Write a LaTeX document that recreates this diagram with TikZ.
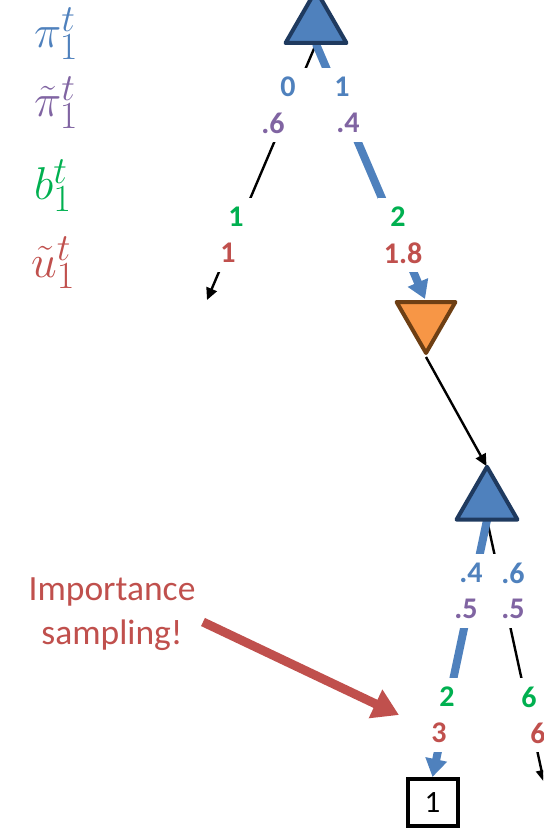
\documentclass[tikz,border=0pt]{standalone}
\usepackage{fontspec}
\usepackage{graphicx}
\newfontfamily\carl{Carlito}
\usetikzlibrary{shapes.geometric,arrows.meta}
\definecolor{triblue}{HTML}{4F81BD}
\definecolor{navy}{HTML}{1F3A5F}
\definecolor{orng}{HTML}{F79646}
\definecolor{brwn}{HTML}{6E3F14}
\definecolor{cblue}{HTML}{4F81BD}
\definecolor{cpurp}{HTML}{8064A2}
\definecolor{cgreen}{HTML}{00B050}
\definecolor{cred}{HTML}{C0504D}
\newcommand{\legmath}[1]{\scalebox{1.85}{\Huge$#1$}}
\tikzset{
  maxtri/.style={regular polygon, regular polygon sides=3, minimum size=70.4pt, inner sep=0pt,
    fill=triblue, draw=navy, line width=4pt, line join=round},
  mintri/.style={regular polygon, regular polygon sides=3, minimum size=68pt, inner sep=0pt,
    shape border rotate=180, fill=orng, draw=brwn, line width=4pt, line join=round},
  leaf/.style={draw, line width=4pt, minimum width=50pt, minimum height=47pt, inner sep=0pt,
    font=\carl\fontsize{31}{31}\selectfont},
  lbl/.style={fill=white, inner xsep=6pt, inner ysep=0pt, minimum width=40pt, minimum height=38pt,
    font=\carl\bfseries\fontsize{30}{30}\selectfont},
  thinarr/.style={line width=2.4pt, -{Triangle[length=12pt,width=11pt]}},
  thickarr/.style={draw=triblue, line width=8pt, -{Triangle[length=18pt,width=21pt]}},
  redarr/.style={draw=cred, line width=9pt, -{Triangle[length=26pt,width=30pt]}},
  mlab/.style={anchor=base west, inner sep=0pt}
}
\begin{document}
\begin{tikzpicture}[x=1pt,y=-1pt]
\useasboundingbox (0,0) rectangle (543,829);
\clip (0,0) rectangle (543,829);

% left legend
\node[mlab, text=cblue] (lp) at (34,48) {\legmath{\pi_1^t}};
\node[mlab, text=cpurp] (lpt) at (34,117) {\legmath{\tilde{\pi}_1^t}};
\node[mlab, text=cgreen] (lb) at (34,200) {\legmath{b_1^t}};
\node[mlab, text=cred] (lu) at (31,277) {\legmath{\tilde{u}_1^t}};

% nodes
\node[mintri] (o1) at (426,319) {};
\node[leaf] (b1) at (432.5,802.5) {1};

\coordinate (t1b) at (316,44);
\coordinate (t2b) at (487,520);
\coordinate (o1t) at (425,299);
\coordinate (lf1) at (207,300);
\coordinate (lf2) at (544,782);
\coordinate (t2top) at (487,467);

% connectors
\draw[thinarr] (t1b) -- (lf1);
\draw[thickarr] (t1b) -- (o1t);
\draw[thinarr, shorten >=1pt] (o1.corner 1) -- (t2top);
\draw[thinarr] (t2b) -- (lf2);
\draw[thickarr] (t2b) -- (b1.north);

% labels
\node[lbl, text=cblue] (a0) at (288,87) {0};
\node[lbl, text=cblue] (a1) at (342,87) {1};
\node[lbl, text=cpurp] (p0) at (273,123) {.6};
\node[lbl, text=cpurp] (p1) at (348,123) {.4};
\node[lbl, text=cgreen] (g0) at (236,217) {1};
\node[lbl, text=cgreen] (g1) at (398,217) {2};
\node[lbl, text=cred] (r0) at (228,253) {1};
\node[lbl, text=cred] (r1) at (403,253) {1.8};

\node[lbl, text=cblue] (c0) at (471,573) {.4};
\node[lbl, text=cblue] (c1) at (513,573) {.6};
\node[lbl, text=cpurp] (q0) at (466,609) {.5};
\node[lbl, text=cpurp] (q1) at (513,609) {.5};
\node[lbl, text=cgreen] (h0) at (447,697) {2};
\node[lbl, text=cgreen] (h1) at (529,697) {6};
\node[lbl, text=cred] (s0) at (439,733) {3};
\node[lbl, text=cred] (s1) at (538,733) {6};

% max nodes on top
\node[maxtri] (t1) at (316,25.4) {};
\node[maxtri] (t2) at (487,502) {};

% annotation
\node[text=cred, align=center, inner sep=0pt, font=\carl\fontsize{35.5}{44}\selectfont] (imp) at (112,614) {Importance\\sampling!};
\coordinate (impS) at (203,622);
\coordinate (impE) at (399,715);
\draw[redarr] (impS) -- (impE);
\end{tikzpicture}
\end{document}
